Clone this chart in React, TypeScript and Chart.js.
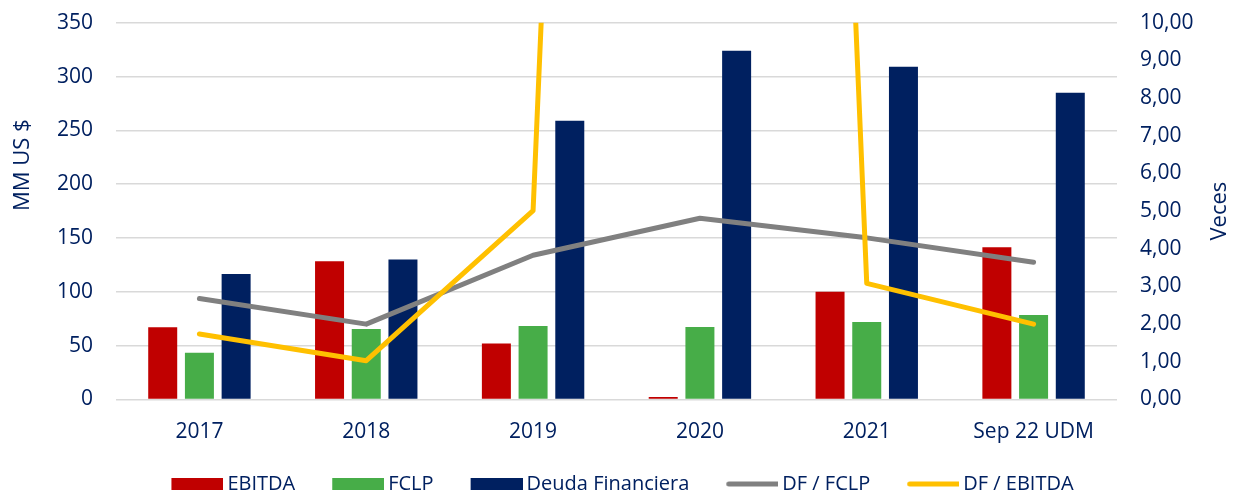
import React, { useEffect, useRef } from "react";
import { Chart, registerables } from "chart.js";

Chart.register(...registerables);

const categories = ["2017", "2018", "2019", "2020", "2021", "Sep 22 UDM"];
const ebitda = [67, 128.5, 52, 2.3, 100, 141.5];
const fclp = [43.5, 65.5, 68.3, 67.3, 72, 78.5];
const deudaFinanciera = [116.5, 130, 259, 324, 309, 285];
const dfFclp = [2.68, 2.0, 3.83, 4.81, 4.29, 3.64];
const dfEbitda = [1.74, 1.03, 5.01, 108, 3.08, 2.0];

const leftAxis = { min: 0, max: 350, step: 50 };
const rightAxis = { min: 0, max: 10, step: 1 };
const seriesNames = ["EBITDA", "FCLP", "Deuda Financiera", "DF / FCLP", "DF / EBITDA"];
const seriesColors = ["#C00000", "#47AD48", "#002060", "#808080", "#FFC000"];

const TEXT = "#002060";
const FONT = '"Open Sans", sans-serif';

// legend marker drawn into a small canvas, shifted right so text sits close to it
function makeMarker(color: string, isLine: boolean): HTMLCanvasElement {
  const c = document.createElement("canvas");
  const shift = 12;
  const w = 52;
  c.width = w + shift;
  c.height = 12;
  const g = c.getContext("2d")!;
  if (isLine) {
    g.strokeStyle = color;
    g.lineWidth = 5;
    g.lineCap = "round";
    g.beginPath();
    g.moveTo(shift + 2.5, 6);
    g.lineTo(shift + w + 1, 6);
    g.stroke();
  } else {
    g.fillStyle = color;
    g.fillRect(shift, 0, w, 12);
  }
  return c;
}

const axisTitles = {
  id: "axisTitles",
  afterDraw(chart: any) {
    const { ctx, chartArea } = chart;
    ctx.save();
    ctx.fillStyle = TEXT;
    ctx.textAlign = "center";
    ctx.textBaseline = "middle";
    ctx.font = `22px ${FONT}`;
    ctx.save();
    ctx.translate(23, chartArea.top + (chartArea.bottom - chartArea.top) * 0.378);
    ctx.rotate(-Math.PI / 2);
    ctx.fillText("MM US $", 0, 0);
    ctx.restore();
    ctx.save();
    ctx.translate(chart.width - 19, (chartArea.top + chartArea.bottom) / 2);
    ctx.rotate(-Math.PI / 2);
    ctx.fillText("Veces", 0, 0);
    ctx.restore();
    ctx.restore();
  },
};

export default function App() {
  const ref = useRef<HTMLCanvasElement | null>(null);

  useEffect(() => {
    document.body.style.margin = "0";
    const canvas = ref.current;
    if (!canvas) return;
    const markers = seriesColors.map((col, i) => makeMarker(col, i >= 3));
    const barDs = (i: number, data: number[]) => ({
      type: "bar",
      label: seriesNames[i],
      data,
      backgroundColor: seriesColors[i],
      yAxisID: "y",
      order: 2,
      categoryPercentage: 0.66,
      barPercentage: 0.79,
    });
    const lineDs = (i: number, data: number[], order: number) => ({
      type: "line",
      label: seriesNames[i],
      data,
      borderColor: seriesColors[i],
      backgroundColor: seriesColors[i],
      borderWidth: 5,
      pointRadius: 0,
      borderCapStyle: "round",
      borderJoinStyle: "round",
      yAxisID: "y1",
      order,
    });
    const chart = new Chart(canvas, {
      type: "bar",
      data: {
        labels: categories,
        datasets: [
          barDs(0, ebitda),
          barDs(1, fclp),
          barDs(2, deudaFinanciera),
          lineDs(3, dfFclp, 1),
          lineDs(4, dfEbitda, 0),
        ],
      } as any,
      options: {
        animation: false,
        responsive: false,
        devicePixelRatio: 1,
        layout: { padding: { top: 22.7, left: 0, right: 0, bottom: 0 } },
        plugins: {
          tooltip: { enabled: false },
          legend: {
            position: "bottom",
            maxHeight: 53,
            labels: {
              usePointStyle: true,
              pointStyleWidth: 52,
              boxHeight: 12,
              padding: 31,
              color: TEXT,
              font: { family: FONT, size: 20 },
              generateLabels: (c: any) => {
                const base = (Chart.defaults.plugins.legend.labels as any).generateLabels(c);
                return base
                  .sort((a: any, b: any) => a.datasetIndex - b.datasetIndex)
                  .map((l: any) => ({
                    ...l,
                    pointStyle: markers[l.datasetIndex],
                    rotation: 0,
                    lineWidth: 0,
                  }));
              },
            },
          },
        },
        scales: {
          x: {
            grid: { display: false },
            border: { display: false },
            ticks: { color: TEXT, font: { family: FONT, size: 21 }, padding: 12 },
            afterFit: (s: any) => {
              s.height = 43.5;
            },
          },
          y: {
            position: "left",
            min: leftAxis.min,
            max: leftAxis.max,
            grid: { color: "#D9D9D9", lineWidth: 1.5, drawTicks: false },
            border: { display: false },
            ticks: {
              stepSize: leftAxis.step,
              color: TEXT,
              font: { family: FONT, size: 21 },
              padding: 23,
            },
            afterFit: (s: any) => {
              s.width = 116;
              s.paddingTop = 0;
              s.paddingBottom = 0;
            },
          },
          y1: {
            position: "right",
            min: rightAxis.min,
            max: rightAxis.max,
            grid: { display: false, drawTicks: false },
            border: { display: false },
            ticks: {
              stepSize: rightAxis.step,
              color: TEXT,
              font: { family: FONT, size: 21 },
              padding: 23,
              callback: (v: any) => Number(v).toFixed(2).replace(".", ","),
            },
            afterFit: (s: any) => {
              s.width = 122;
              s.paddingTop = 0;
              s.paddingBottom = 0;
            },
          },
        },
      } as any,
      plugins: [axisTitles],
    });
    return () => chart.destroy();
  }, []);

  return (
    <div style={{ width: 1239, height: 496, position: "relative" }}>
      <canvas ref={ref} width={1239} height={496} style={{ display: "block" }} />
    </div>
  );
}
